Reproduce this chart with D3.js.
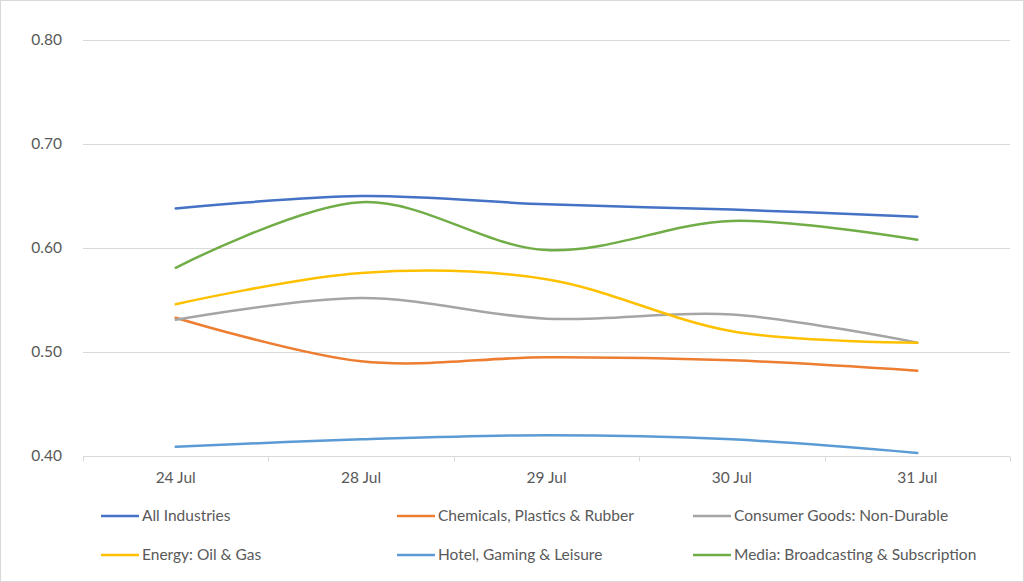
<!DOCTYPE html>
<html>
<head>
<meta charset="utf-8">
<script src="https://cdn.jsdelivr.net/npm/d3@7"></script>
<style>
  body { margin: 0; background: #fff; }
  text { font-family: Lato, "Open Sans", sans-serif; fill: #595959; }
</style>
</head>
<body>
<div id="chart"></div>
<script>
// categories and series
const dates = ["24 Jul", "28 Jul", "29 Jul", "30 Jul", "31 Jul"];
const allIndustries = [0.638, 0.650, 0.642, 0.637, 0.630];
const chemicals = [0.533, 0.491, 0.495, 0.492, 0.482];
const consumerGoods = [0.531, 0.552, 0.532, 0.536, 0.509];
const energy = [0.546, 0.576, 0.570, 0.520, 0.509];
const hotel = [0.409, 0.416, 0.420, 0.416, 0.403];
const media = [0.581, 0.644, 0.598, 0.626, 0.608];
const yTicks = [0.40, 0.50, 0.60, 0.70, 0.80];

const series = [
  { name: "All Industries", values: allIndustries, color: "#4472C4" },
  { name: "Chemicals, Plastics & Rubber", values: chemicals, color: "#ED7D31" },
  { name: "Consumer Goods: Non-Durable", values: consumerGoods, color: "#A5A5A5" },
  { name: "Energy: Oil & Gas", values: energy, color: "#FFC000" },
  { name: "Hotel, Gaming & Leisure", values: hotel, color: "#5B9BD5" },
  { name: "Media: Broadcasting & Subscription", values: media, color: "#70AD47" }
];

const width = 1024;
const height = 582;
const fontSize = 15.5;
const svg = d3.select("#chart")
  .append("svg")
  .attr("width", width)
  .attr("height", height);

// chart border
svg.append("rect")
  .attr("x", 0.5).attr("y", 0.5)
  .attr("width", width - 1).attr("height", height - 1)
  .attr("fill", "white")
  .attr("stroke", "#D9D9D9");

const x = d3.scaleBand().domain(dates).range([83, 1010]);
const y = d3.scaleLinear().domain([0.40, 0.80]).range([456, 40]);

// gridlines
svg.selectAll(".grid")
  .data(yTicks.slice(1))
  .enter()
  .append("line")
  .attr("x1", 83).attr("x2", 1010)
  .attr("y1", d => Math.round(y(d)) + 0.5)
  .attr("y2", d => Math.round(y(d)) + 0.5)
  .attr("stroke", "#D9D9D9")
  .attr("stroke-width", 1);

// y labels
svg.selectAll(".ylab")
  .data(yTicks)
  .enter()
  .append("text")
  .attr("x", 62)
  .attr("y", d => y(d))
  .attr("dy", "0.35em")
  .attr("text-anchor", "end")
  .attr("font-size", fontSize)
  .text(d => d.toFixed(2));

// x axis
const xAxis = svg.append("g")
  .attr("transform", "translate(0," + (Math.round(y(0.40)) + 0.5) + ")");
xAxis.append("line")
  .attr("x1", 83).attr("x2", 1010)
  .attr("stroke", "#D9D9D9");
const bounds = dates.map(d => x(d)).concat([1010]);
xAxis.selectAll(".tick")
  .data(bounds)
  .enter()
  .append("line")
  .attr("x1", d => Math.round(d) + 0.5).attr("x2", d => Math.round(d) + 0.5)
  .attr("y1", 0).attr("y2", 5)
  .attr("stroke", "#D9D9D9");
xAxis.selectAll(".xlab")
  .data(dates)
  .enter()
  .append("text")
  .attr("x", d => x(d) + x.bandwidth() / 2)
  .attr("y", 21)
  .attr("dy", "0.35em")
  .attr("text-anchor", "middle")
  .attr("font-size", fontSize)
  .text(d => d);

// lines
const line = d3.line()
  .x((d, i) => x(dates[i]) + x.bandwidth() / 2)
  .y(d => y(d))
  .curve(d3.curveCatmullRom.alpha(0));

svg.selectAll(".series")
  .data(series)
  .enter()
  .append("path")
  .attr("d", d => line(d.values))
  .attr("fill", "none")
  .attr("stroke", d => d.color)
  .attr("stroke-width", 2.5)
  .attr("stroke-linecap", "round");

// legend
const legendX = [101, 397, 693];
const legendY = [516, 555];
const legend = svg.selectAll(".legend")
  .data(series)
  .enter()
  .append("g")
  .attr("transform", (d, i) => "translate(" + legendX[i % 3] + "," + legendY[Math.floor(i / 3)] + ")");
legend.append("line")
  .attr("x1", 0).attr("x2", 38)
  .attr("stroke", d => d.color)
  .attr("stroke-width", 2.5);
legend.append("text")
  .attr("x", 41)
  .attr("dy", "0.35em")
  .attr("font-size", fontSize)
  .text(d => d.name);
</script>
</body>
</html>
